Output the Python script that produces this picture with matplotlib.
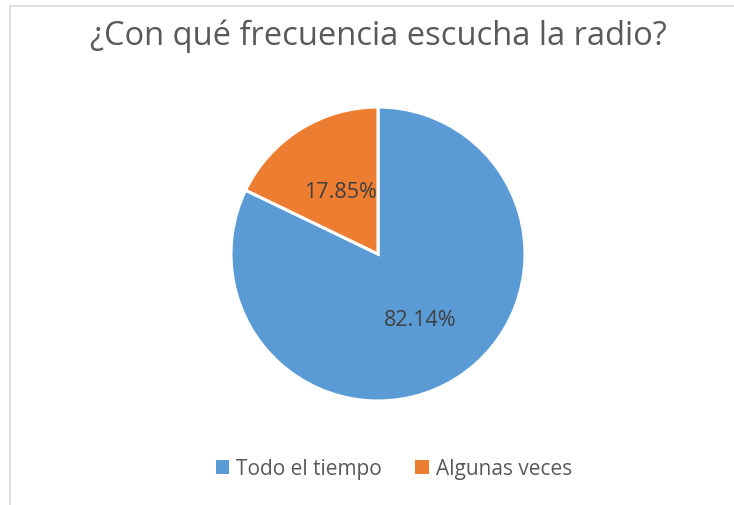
import matplotlib
matplotlib.use("Agg")
import matplotlib.pyplot as plt
from matplotlib.patches import Patch
from matplotlib.lines import Line2D

categories = ["Todo el tiempo", "Algunas veces"]
values = [82.14, 17.85]
labels = ["82.14%", "17.85%"]
colors = ["#5B9BD5", "#ED7D31"]
title = "¿Con qué frecuencia escucha la radio?"

plt.rcParams['font.family'] = ['Open Sans', 'DejaVu Sans']

W, H = 734, 506
fig = plt.figure(figsize=(W / 100, H / 100), dpi=100)
fig.patch.set_facecolor("white")

# chart border (top and left visible)
fig.add_artist(Line2D([10 / W, 10 / W], [0, 1 - 7 / H], transform=fig.transFigure, color="#D9D9D9", lw=1.2))
fig.add_artist(Line2D([10 / W, 1], [1 - 7 / H, 1 - 7 / H], transform=fig.transFigure, color="#D9D9D9", lw=1.2))

cx, cy, r = 378, 255, 147
ax = fig.add_axes([(cx - r) / W, 1 - (cy + r) / H, 2 * r / W, 2 * r / H])
wedges, _ = ax.pie(values, colors=colors, startangle=90, counterclock=False,
                   wedgeprops=dict(edgecolor="white", linewidth=2.2))
ax.set_aspect("equal")
ax.set_xlim(-1, 1)
ax.set_ylim(-1, 1)

label_pos = [(420, 320), (340, 192)]
for lab, (px, py) in zip(labels, label_pos):
    fig.text(px / W, 1 - py / H, lab, ha="center", va="center", fontsize=15.5, color="#404040")

fig.text(378 / W, 1 - 36 / H, title, ha="center", va="center", fontsize=23.5, color="#595959")

handles = [Patch(facecolor=c, edgecolor="none") for c in colors]
fig.legend(handles, categories, loc="center", bbox_to_anchor=(394 / W, 1 - 470 / H),
           ncol=2, frameon=False, fontsize=15, labelcolor="#595959",
           handlelength=0.65, handleheight=0.65, handletextpad=0.35, columnspacing=1.6)

fig.savefig("out.png", dpi=100, facecolor="white")
